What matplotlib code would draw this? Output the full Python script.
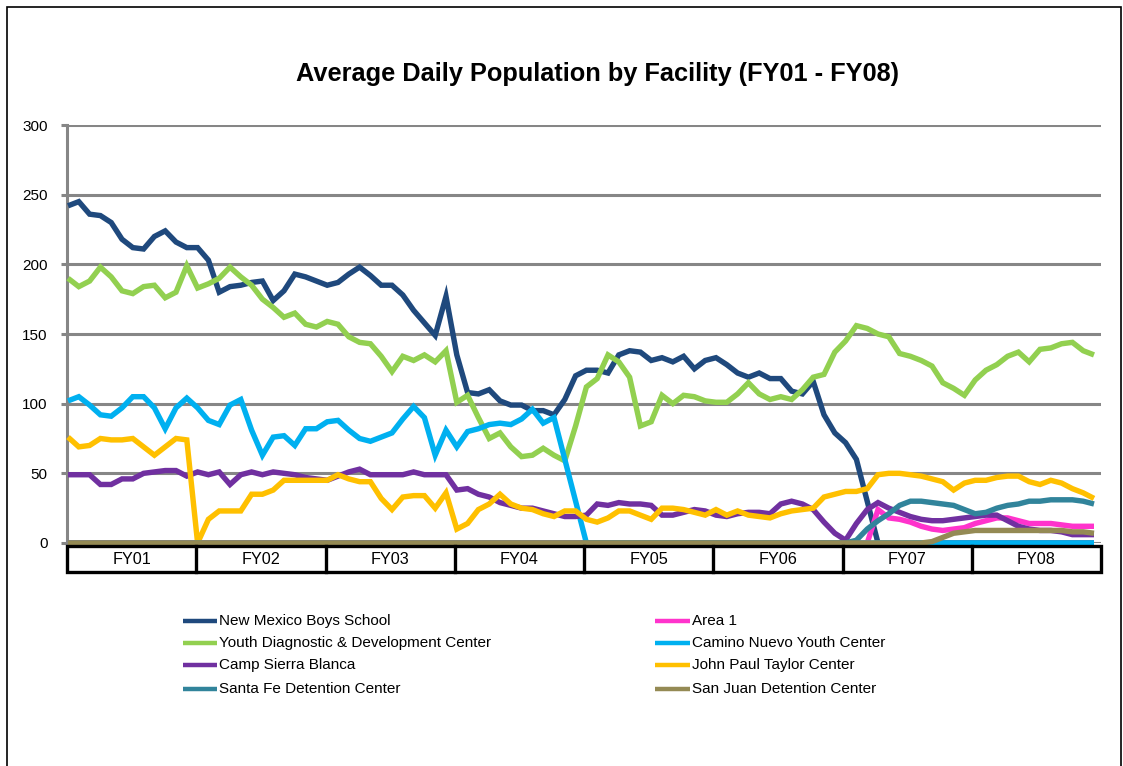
import numpy as np
import matplotlib
matplotlib.use("Agg")
import matplotlib.pyplot as plt
from matplotlib import font_manager
from matplotlib.lines import Line2D
from matplotlib.patches import Rectangle

# ---- data: monthly average daily population, FY01 through FY08 (96 months) ----
fiscal_years = ["FY01", "FY02", "FY03", "FY04", "FY05", "FY06", "FY07", "FY08"]

new_mexico_boys_school = [
    242, 245, 236, 235, 230, 218, 212, 211, 220, 224, 216, 212,
    212, 203, 180, 184, 185, 187, 188, 174, 181, 193, 191, 188,
    185, 187, 193, 198, 192, 185, 185, 178, 167, 158, 149, 177,
    135, 108, 107, 110, 102, 99, 99, 95, 95, 92, 103, 120,
    124, 124, 122, 135, 138, 137, 131, 133, 130, 134, 125, 131,
    133, 128, 122, 119, 122, 118, 118, 109, 107, 116, 92, 79,
    72, 60, 30, 0, 0, 0, 0, 0, 0, 0, 0, 0,
    0, 0, 0, 0, 0, 0, 0, 0, 0, 0, 0, 0,
]
area_1 = [0] * 75 + [
    24, 18, 17, 15, 12, 10, 9, 10, 11,
    14, 16, 18, 18, 16, 14, 14, 14, 13, 12, 12, 12,
]
youth_diagnostic = [
    190, 184, 188, 198, 191, 181, 179, 184, 185, 176, 180, 199,
    183, 186, 190, 198, 191, 185, 175, 169, 162, 165, 157, 155,
    159, 157, 148, 144, 143, 134, 123, 134, 131, 135, 130, 138,
    101, 106, 90, 75, 79, 69, 62, 63, 68, 63, 59, 84,
    112, 118, 135, 130, 119, 84, 87, 106, 100, 106, 105, 102,
    101, 101, 107, 115, 107, 103, 105, 103, 110, 119, 121, 137,
    145, 156, 154, 150, 148, 136, 134, 131, 127, 115, 111, 106,
    117, 124, 128, 134, 137, 130, 139, 140, 143, 144, 138, 135,
]
camino_nuevo = [
    102, 105, 99, 92, 91, 97, 105, 105, 97, 82, 97, 104,
    97, 88, 85, 99, 103, 81, 63, 76, 77, 70, 82, 82,
    87, 88, 81, 75, 73, 76, 79, 89, 98, 90, 63, 81,
    69, 80, 82, 85, 86, 85, 89, 96, 86, 90, 60, 30,
] + [0] * 48
camp_sierra_blanca = [
    49, 49, 49, 42, 42, 46, 46, 50, 51, 52, 52, 48,
    51, 49, 51, 42, 49, 51, 49, 51, 50, 49, 47, 46,
    45, 48, 51, 53, 49, 49, 49, 49, 51, 49, 49, 49,
    38, 39, 35, 33, 29, 27, 25, 25, 23, 21, 19, 19,
    20, 28, 27, 29, 28, 28, 27, 20, 20, 22, 24, 23,
    20, 19, 21, 22, 22, 21, 28, 30, 28, 24, 15, 7,
    2, 14, 24, 29, 25, 22, 19, 17, 16, 16, 17, 18,
    19, 20, 20, 16, 12, 10, 9, 9, 8, 6, 6, 6,
]
john_paul_taylor = [
    76, 69, 70, 75, 74, 74, 75, 69, 63, 69, 75, 74,
    0, 17, 23, 23, 23, 35, 35, 38, 45, 45, 45, 45,
    45, 49, 46, 44, 44, 32, 24, 33, 34, 34, 25, 36,
    10, 14, 24, 28, 35, 28, 25, 24, 21, 19, 23, 23,
    17, 15, 18, 23, 23, 20, 17, 25, 25, 24, 22, 20,
    24, 20, 23, 20, 19, 18, 21, 23, 24, 25, 33, 35,
    37, 37, 39, 49, 50, 50, 49, 48, 46, 44, 38, 43,
    45, 45, 47, 48, 48, 44, 42, 45, 43, 39, 36, 32,
]
santa_fe = [0] * 73 + [
    2, 10, 16, 21, 27, 30, 30, 29, 28, 27, 24,
    21, 22, 25, 27, 28, 30, 30, 31, 31, 31, 30, 28,
]
san_juan = [0] * 80 + [
    1, 4, 7, 8,
    9, 9, 9, 9, 9, 9, 9, 9, 9, 8, 8, 7,
]

series_names = [
    "New Mexico Boys School", "Area 1",
    "Youth Diagnostic & Development Center", "Camino Nuevo Youth Center",
    "Camp Sierra Blanca", "John Paul Taylor Center",
    "Santa Fe Detention Center", "San Juan Detention Center",
]
series_values = [
    new_mexico_boys_school, area_1, youth_diagnostic, camino_nuevo,
    camp_sierra_blanca, john_paul_taylor, santa_fe, san_juan,
]
series_colors = [
    "#1F497D", "#FF33CC", "#92D050", "#00B0F0",
    "#7030A0", "#FFC000", "#31849B", "#948A54",
]

# ---- fonts ----
installed = {f.name for f in font_manager.fontManager.ttflist}
if "Liberation Sans Narrow" in installed:
    narrow = "Liberation Sans Narrow"
    nscale = 1.0
else:
    narrow = "Liberation Sans"
    nscale = 0.9
regular = "Liberation Sans" if "Liberation Sans" in installed else "DejaVu Sans"

W, H = 1123, 766
fig = plt.figure(figsize=(W / 100, H / 100), dpi=100)
fig.patch.set_facecolor("white")


def fx(px):
    return px / W


def fy(py):
    return 1 - py / H


# outer frame
fig.add_artist(Rectangle((fx(7), fy(790)), fx(1121) - fx(7), fy(7) - fy(790),
                         transform=fig.transFigure, fill=False,
                         edgecolor="black", linewidth=1.2, clip_on=False))

# ---- plot area ----
ax_left, ax_right, ax_top, ax_bottom = 67, 1101, 125, 543
ax = fig.add_axes([fx(ax_left), fy(ax_bottom), fx(ax_right - ax_left),
                   (ax_bottom - ax_top) / H])
step = 10.8
ax.set_xlim(-(68 - ax_left) / step, (ax_right - 68) / step)
ax.set_ylim(0, 300)

grid_grey = "#868686"
ax.set_yticks(np.arange(0, 301, 50))
ax.yaxis.grid(True, color=grid_grey, linewidth=2.2)
ax.set_axisbelow(True)
ax.set_xticks([])
for side in ("top", "right", "bottom"):
    ax.spines[side].set_visible(False)
ax.spines["left"].set_color(grid_grey)
ax.spines["left"].set_linewidth(2.2)
ax.tick_params(axis="y", direction="out", length=4.5, width=2.2, color=grid_grey,
               labelsize=11, pad=9.5, labelcolor="black")
for lab in ax.get_yticklabels():
    lab.set_fontfamily(regular)

months = np.arange(96)
lines = {}
for z, (name, vals, col) in enumerate(zip(series_names, series_values, series_colors)):
    (ln,) = ax.plot(months, vals, color=col, linewidth=3.9, solid_joinstyle="miter",
                    solid_capstyle="butt", clip_on=False, zorder=3 + z)
    lines[name] = ln

# ---- title ----
fig.text(fx(597), fy(74), "Average Daily Population by Facility (FY01 - FY08)",
         ha="center", va="center", fontsize=20.3 * nscale, fontweight="bold",
         family=narrow)

# ---- fiscal-year category band under the axis ----
tab = fig.add_axes([fx(67), fy(572), fx(1101 - 67), 26 / H])
tab.set_xlim(0, len(fiscal_years))
tab.set_ylim(0, 1)
tab.axis("off")
tab.add_patch(Rectangle((0, 0), len(fiscal_years), 1, fill=False,
                        edgecolor="black", linewidth=2.4, clip_on=False))
for k in range(1, len(fiscal_years)):
    tab.plot([k, k], [0, 1], color="black", linewidth=2.4, clip_on=False)
for k, fy_lab in enumerate(fiscal_years):
    tab.text(k + 0.5, 0.48, fy_lab, ha="center", va="center",
             fontsize=13 * nscale, family=narrow)

# ---- legend, two columns ----
legend_cols = [
    (183, 217, 219, ["New Mexico Boys School", "Youth Diagnostic & Development Center",
                     "Camp Sierra Blanca", "Santa Fe Detention Center"]),
    (655, 690, 692, ["Area 1", "Camino Nuevo Youth Center",
                     "John Paul Taylor Center", "San Juan Detention Center"]),
]
row_y = [621, 643, 665, 689]
for x0, x1, xt, names in legend_cols:
    for yy, name in zip(row_y, names):
        fig.add_artist(Line2D([fx(x0), fx(x1)], [fy(yy), fy(yy)],
                              transform=fig.transFigure,
                              color=lines[name].get_color(), linewidth=3.2,
                              solid_capstyle="butt"))
        fig.text(fx(xt), fy(yy), name, ha="left", va="center",
                 fontsize=12.2 * nscale, family=narrow)

fig.savefig("out.png", dpi=100, facecolor="white")
